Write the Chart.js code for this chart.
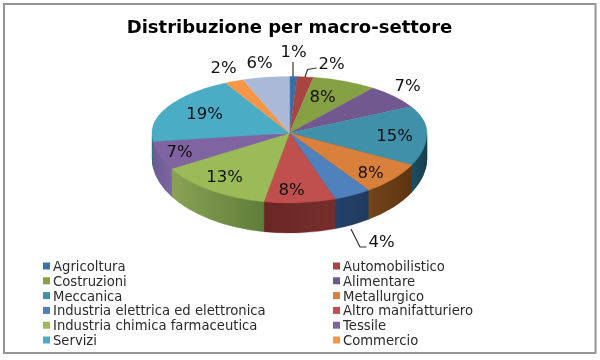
<!DOCTYPE html>
<html>
<head>
<meta charset="utf-8">
<title>Distribuzione per macro-settore</title>
<script src="https://cdn.jsdelivr.net/npm/chart.js@4"></script>
<style>
  html, body { margin: 0; padding: 0; background: #fff; }
  #wrap { width: 600px; height: 360px; }
</style>
</head>
<body>
<div id="wrap"><canvas id="myChartSettori" width="600" height="360"></canvas></div>
<script>
// dati (l'ultimo settore non compare in legenda)
const categorie = [
	"Agricoltura", "Automobilistico", "Costruzioni", "Alimentare", "Meccanica",
	"Metallurgico", "Industria elettrica ed elettronica", "Altro manifatturiero",
	"Industria chimica farmaceutica", "Tessile", "Servizi", "Commercio", ""
];
// le etichette sono arrotondate, i decimali sono stimati dall'ampiezza delle fette
const percentuali = [0.9, 1.9, 7.6, 6.9, 15.3, 7.7, 4.4, 8.4, 13.49, 6.6, 19.3, 2.2, 5.5];

// stile
const coloriTop = ["#3a6fa8", "#a84442", "#86a044", "#71588f", "#3f90a8", "#d9813c",
	"#4f81bd", "#c0504d", "#9bbb59", "#8064a2", "#4bacc6", "#f79646", "#aab9d8"];
const coloriLatoA = ["#2a4f7a", "#772f2e", "#5f7431", "#503e66", "#1d4f60", "#74441a",
	"#23426a", "#6a2624", "#8aa254", "#6d5a93", "#2f6f80", "#a8662e", "#78839c"];
const coloriLatoB = ["#2a4f7a", "#772f2e", "#5f7431", "#503e66", "#173f4c", "#5c3410",
	"#1f3a5c", "#752e2c", "#5f7d3a", "#7a66a0", "#2f6f80", "#a8662e", "#78839c"];

// posizione delle etichette rispetto al centro della torta
const etichetteDx = [4, 42, 33, 118, 105, 81, 92, 2, -65, -110, -85, -66, -30];
const etichetteDy = [-81, -69, -36, -47, 3, 40, 109, 57, 44, 19, -19, -65, -70];

const centroY = 133, altoY = 56.5, bassoY = 70, spessore = 25, extraBasso = 5;

function disegnaMeta(ctx, chart, archi, sopra, dy, ry, stile) {
	const r = archi[0].outerRadius;
	const yc = archi[0].y;
	ctx.save();
	ctx.beginPath();
	if (sopra) ctx.rect(0, 0, chart.width, centroY + dy);
	else ctx.rect(0, centroY + dy, chart.width, chart.height);
	ctx.clip();
	ctx.translate(0, centroY + dy);
	ctx.scale(1, ry / r);
	ctx.translate(0, -yc);
	archi.forEach((arco, i) => {
		const orig = arco.options;
		if (stile) {
			const st = stile(arco, i);
			if (!st) return;
			arco.options = Object.assign({}, orig, { backgroundColor: st, borderColor: st });
		}
		arco.draw(ctx);
		arco.options = orig;
	});
	ctx.restore();
}

function gradienteLato(ctx, arco, i) {
	const s = Math.max(arco.startAngle, 0);
	const e = Math.min(arco.endAngle, Math.PI);
	if (e <= s) return null;
	const x0 = arco.x + arco.outerRadius * Math.cos(s);
	const x1 = arco.x + arco.outerRadius * Math.cos(e);
	const g = ctx.createLinearGradient(x1, 0, x0, 0);
	g.addColorStop(0, coloriLatoA[i]);
	g.addColorStop(1, coloriLatoB[i]);
	return g;
}

const torta3d = {
	id: "torta3d",
	beforeDraw(chart) {
		const ctx = chart.ctx;
		ctx.save();
		ctx.strokeStyle = "#969696";
		ctx.lineWidth = 2;
		ctx.strokeRect(4, 4, 591.5, 349);
		ctx.restore();
	},
	beforeDatasetsDraw(chart) {
		const ctx = chart.ctx;
		const archi = chart.getDatasetMeta(0).data;
		const cx = archi[0].x;

		// fianco
		for (let d = spessore; d >= 1; d--) {
			const ry = bassoY + extraBasso * d / spessore;
			disegnaMeta(ctx, chart, archi, false, d, ry, (a, i) => gradienteLato(ctx, a, i));
		}
		// faccia superiore
		disegnaMeta(ctx, chart, archi, true, 0, altoY);
		disegnaMeta(ctx, chart, archi, false, 0, bassoY);

		// linee guida
		ctx.save();
		ctx.strokeStyle = "#333";
		ctx.lineWidth = 1.2;
		const guide = [[[3.5, -71], [3.5, -56]], [[15.5, -56], [18, -63.5], [27, -65]], [[61.5, 96], [70.5, 114], [77, 114]]];
		guide.forEach(punti => {
			ctx.beginPath();
			punti.forEach((p, k) => {
				if (k === 0) ctx.moveTo(cx + p[0], centroY + p[1]);
				else ctx.lineTo(cx + p[0], centroY + p[1]);
			});
			ctx.stroke();
		});
		ctx.restore();

		// etichette
		ctx.save();
		ctx.font = "16.5px 'DejaVu Sans'";
		ctx.fillStyle = "#111";
		ctx.textAlign = "center";
		ctx.textBaseline = "middle";
		percentuali.forEach((v, i) => {
			ctx.fillText(Math.round(v) + "%", cx + etichetteDx[i], centroY + etichetteDy[i] + 1);
		});
		ctx.restore();

		// legenda su due colonne
		ctx.save();
		ctx.font = "13.2px 'DejaVu Sans'";
		ctx.textAlign = "left";
		ctx.textBaseline = "middle";
		categorie.forEach((nome, i) => {
			if (!nome) return;
			const col = i % 2;
			const riga = Math.floor(i / 2);
			const x = col === 0 ? 43 : 333;
			const y = 266 + riga * 14.8;
			ctx.fillStyle = coloriTop[i];
			ctx.fillRect(x, y - 3.5, 7, 7);
			ctx.fillStyle = "#2b2b2b";
			ctx.fillText(nome, x + 10, y + 1.5);
		});
		ctx.restore();
		return false;
	}
};

const ctx1 = document.getElementById("myChartSettori").getContext("2d");

let myChartSettori = new Chart(ctx1, {
	type: "pie",
	data: {
		labels: categorie,
		datasets: [
			{
				label: "Macro-settori",
				data: percentuali,
				backgroundColor: coloriTop,
				borderColor: coloriTop,
				borderWidth: 0.5,
				radius: 137.5,
			}
		],
	},
	options: {
		responsive: false,
		animation: false,
		events: [],
		layout: { padding: { right: 21 } },
		plugins: {
			legend: { display: false },
			tooltip: { enabled: false },
			title: {
				display: true,
				fullSize: false,
				text: "Distribuzione per macro-settore",
				color: "#000",
				font: { family: "'DejaVu Sans'", size: 18, weight: "bold" },
				padding: { top: 18, bottom: 5 },
			},
		},
	},
	plugins: [torta3d],
});
</script>
</body>
</html>
